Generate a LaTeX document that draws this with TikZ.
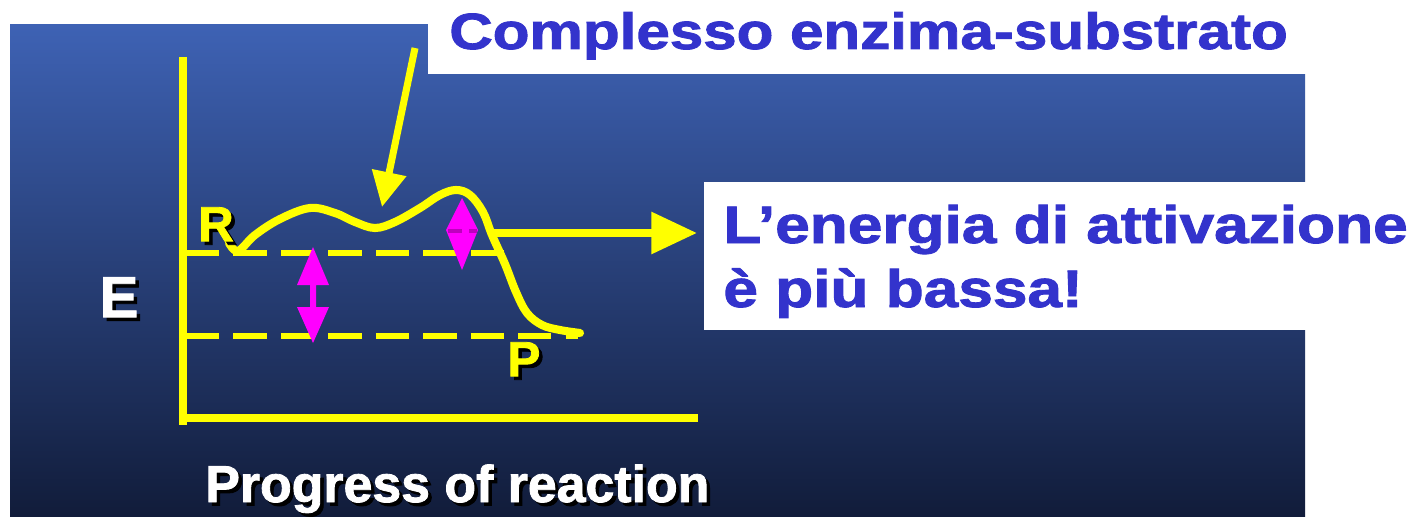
\documentclass[tikz,border=0pt]{standalone}
\usepackage{fontspec}
\setmainfont{Liberation Sans}
\newfontfamily\heavyFont{Liberation Sans Bold}[FakeBold=1.6]
\usetikzlibrary{arrows.meta,positioning}
\definecolor{slideTop}{RGB}{62,98,180}
\definecolor{slideMid}{RGB}{44,74,140}
\definecolor{slideBot}{RGB}{17,28,58}
\definecolor{noteBlue}{RGB}{51,51,204}
\definecolor{plotYellow}{RGB}{255,255,0}
\definecolor{gapMagenta}{RGB}{255,0,255}
\definecolor{darkMagenta}{RGB}{190,0,190}
% shadowed and widened text
\newcommand\myShadow[1]{\makebox[0pt][l]{\hspace{2pt}\raisebox{-2pt}{\color{black}#1}}#1}
\newcommand\myWide[1]{\scalebox{1.18}[1]{#1}}
\tikzset{
myAxis/.style={
	draw=plotYellow,line width=4.5pt
}
, myLevel/.style={
	draw=plotYellow,line width=3pt,dash pattern=on 19pt off 8pt
}
, myCurve/.style={
	draw=plotYellow,line width=4.6pt,line join=round,line cap=round
}
% arrows
, myPointer/.style={-{Triangle[length=20pt,width=19pt]},draw=plotYellow,line width=4pt}
, myOut/.style={-{Triangle[length=26pt,width=23pt]},draw=plotYellow,line width=4.5pt}
, myGap/.style={fill=gapMagenta}
% texts
, myNote/.style={
	text=noteBlue,inner sep=0pt,
	font=\heavyFont\fontsize{30}{30}\selectfont
}
, myTag/.style={
	text=plotYellow,inner sep=0pt,
	font=\heavyFont\fontsize{28}{28}\selectfont
}
, myAxisLabel/.style={
	text=white,inner sep=0pt,
	font=\heavyFont\fontsize{29.5}{30}\selectfont
}
}
\begin{document}
\begin{tikzpicture}[x=0.02cm,y=-0.02cm]
	\useasboundingbox (0,0) rectangle (1414,517);
	% slide
	\fill[white] (0,0) rectangle (1414,517);
	\shade[top color=slideTop,middle color=slideMid,bottom color=slideBot] (10,25) rectangle (1305,517);
	\fill[white] (428,0) rectangle (1414,74);
	\fill[white] (704,182) rectangle (1414,330);
	
	% axes
	\coordinate (O) at (183,418);
	\coordinate (Ytop) at (183,57);
	\coordinate (Xend) at (698,418);
	\draw[myAxis] (Ytop) -- (183,425);
	\draw[myAxis] (180,418) -- (Xend);
	
	% levels
	\draw[myLevel] (186,253) -- (512,253);
	\draw[myLevel] (186,336) -- (578,336);
	
	% magenta arrows
	\fill[myGap] (313,247) -- (329,285) -- (316,285) -- (316,307) -- (329,307)
		-- (313,343) -- (297,307) -- (310,307) -- (310,285) -- (297,285) -- cycle;
	\fill[myGap] (462,198) -- (478,230) -- (462,270) -- (446,230) -- cycle;
	\draw[darkMagenta,line width=2pt,dash pattern=on 8pt off 4pt] (448,231) -- (477,231);
	
	% reaction path
	\draw[myCurve] plot[smooth,tension=0.6] coordinates {
		(229,243) (238,251) (255,235) (280,219) (310,208) (335,213) (355,222)
		(375,228) (395,222) (420,208) (440,195) (456,190) (470,195) (483,212)
		(492,235) (505,264) (516,292) (527,313) (542,325) (560,330) (580,333)};
	\coordinate (Peak) at (493,233);
	\coordinate (Dip) at (382,207);
	
	% labels
	\node[myTag] (R) at (216,226) {\myShadow{R}};
	\node[myTag] (P) at (524,361) {\myShadow{P}};
	\node[myAxisLabel,font=\heavyFont\fontsize{33}{33}\selectfont] (E) at (119,299) {\myShadow{E}};
	\node[myAxisLabel,anchor=base west] (X) at (205,502) {\myShadow{Progress of reaction}};
	
	% notes
	\node[myNote,anchor=base west,font=\heavyFont\fontsize{29}{29}\selectfont] (ES) at (449,49) {\myWide{Complesso enzima-substrato}};
	\node[myNote,anchor=base west] (Low) at (723,243) {\myWide{L’energia di attivazione}};
	\node[myNote,anchor=base west] (LowB) at (723,307) {\myWide{è più bassa!}};
	\coordinate (EStail) at (415,48);
	\coordinate (LowTip) at (697,233);
	
	% pointers
	\draw[myPointer] (EStail) -- (Dip);
	\draw[myOut] (Peak) -- (LowTip);
\end{tikzpicture}
\end{document}
